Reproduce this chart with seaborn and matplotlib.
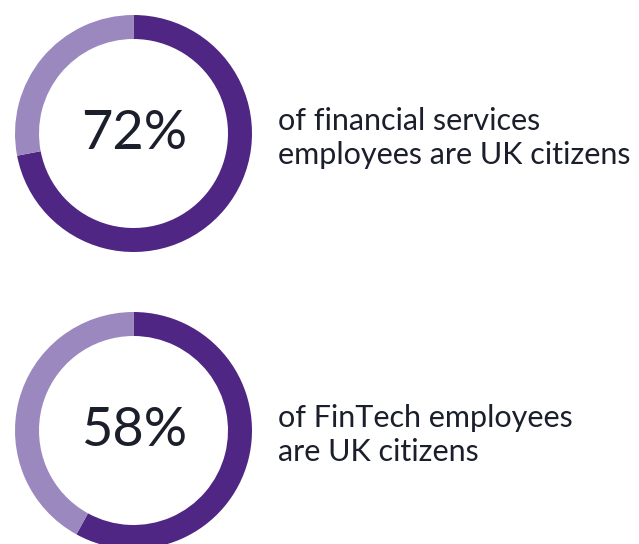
import matplotlib.pyplot as plt
import seaborn as sns

# data
shares = [72, 58]
labels = ["72%", "58%"]
captions = ["of financial services\nemployees are UK citizens",
            "of FinTech employees\nare UK citizens"]

dark = "#4f2683"
light = "#9b88bf"
txt = "#1b1f2b"

sns.set_theme(style="white")
plt.rcParams["font.family"] = ["Lato", "DejaVu Sans"]

W, H = 639, 544
fig = plt.figure(figsize=(W / 100, H / 100), dpi=100)
ax = fig.add_axes([0, 0, 1, 1])

centers_y = [H - 133.5, H - 430.5]
cap_y = [H - 138, H - 435]

for share, lab, cap, cy, ty in zip(shares, labels, captions, centers_y, cap_y):
    ax.pie([share, 100 - share], colors=[dark, light], startangle=90,
           counterclock=False, radius=118.5, center=(133.5, cy),
           wedgeprops=dict(width=24, linewidth=0), frame=True)
    ax.text(134, cy, lab, ha="center", va="center", fontsize=39, color=txt)
    ax.text(278, ty, cap, ha="left", va="center", fontsize=22,
            color=txt, linespacing=1.25)

ax.set_xlim(0, W)
ax.set_ylim(0, H)
ax.set_aspect("equal")
ax.axis("off")

fig.savefig("out.png", dpi=100, facecolor="white")
